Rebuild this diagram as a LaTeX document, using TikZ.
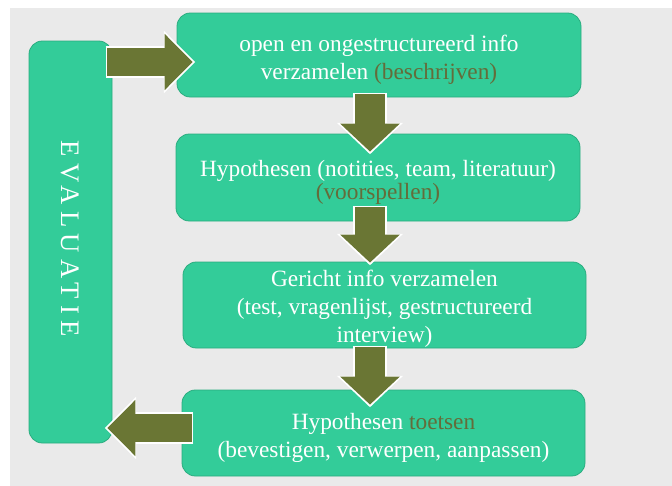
\documentclass[tikz,border=0pt]{standalone}
\usepackage{fontspec}
\setmainfont{Liberation Serif}
\newfontfamily\spacedfont[LetterSpace=24]{Liberation Serif}
\usepackage{xcolor}
\usetikzlibrary{arrows.meta}

\definecolor{boxgreen}{RGB}{51,204,153}
\definecolor{boxline}{RGB}{42,172,127}
\definecolor{arrowolive}{RGB}{106,118,52}
\definecolor{notebrown}{RGB}{100,108,58}
\definecolor{pagegray}{RGB}{234,234,234}

% pushes the first line down a little
\newcommand{\lowerline}[1]{\rule{0pt}{#1}}

\begin{document}
\begin{tikzpicture}[x=0.75pt, y=-0.75pt,
    stepbox/.style={fill=boxgreen, draw=boxline, line width=0.6pt, rounded corners=10pt,
        text=white, align=center, inner sep=0pt, font=\fontsize{17.5}{21}\selectfont},
    downarrow/.style={draw=arrowolive, line width=22.5pt, -{Triangle[width=43.5pt,length=21pt]},
        preaction={draw=white, line width=25pt, -{Triangle[width=48pt,length=23.5pt]},
        shorten >=-2pt, shorten <=-1.25pt}},
    sidearrow/.style={draw=arrowolive, line width=21.5pt, -{Triangle[width=41pt,length=21pt]},
        preaction={draw=white, line width=24pt, -{Triangle[width=45.5pt,length=23.5pt]},
        shorten >=-2pt, shorten <=-1.25pt}}]
        \useasboundingbox (0,0) rectangle (672,486);
        \fill[pagegray] (10,8) rectangle (672,486);

        \node (eval) [stepbox, minimum width=62.25pt, minimum height=301.5pt,
            label={[yshift=2.5pt, rotate=-90, text=white, font=\spacedfont\fontsize{20}{20}\selectfont]center:EVALUATIE}] at (70.5,242) {};
        \node (b1) [stepbox, minimum width=303pt, minimum height=63pt] at (379,55)
            {\lowerline{19.5pt}open en ongestructureerd info\\verzamelen \textcolor{notebrown}{(beschrijven)}};
        \node (b2) [stepbox, minimum width=303pt, minimum height=65.25pt] at (378,177.5)
            {\lowerline{19.5pt}Hypothesen (notities, team, literatuur)\\[-3.75pt]\textcolor{notebrown}{(voorspellen)}};
        \node (b3) [stepbox, minimum width=302.25pt, minimum height=64.5pt] at (384.5,305)
            {\lowerline{18pt}Gericht info verzamelen\\(test, vragenlijst, gestructureerd\\interview)};
        \node (b4) [stepbox, minimum width=302.25pt, minimum height=64.5pt] at (383.5,433)
            {\lowerline{19pt}Hypothesen \textcolor{notebrown}{toetsen}\\(bevestigen, verwerpen, aanpassen)};

        \draw[sidearrow] ([xshift=-3.75pt,yshift=-5.25pt]eval.east |- b1.west) -- ([xshift=12pt,yshift=-5.25pt]b1.west);
        \draw[downarrow] ([xshift=-6.75pt,yshift=2.25pt]b1.south) -- ([xshift=-6pt,yshift=-13.5pt]b2.north);
        \draw[downarrow] ([xshift=-6pt,yshift=10.5pt]b2.south) -- ([xshift=-10.875pt,yshift=-0.75pt]b3.north);
        \draw[downarrow] ([xshift=-10.875pt,yshift=0.75pt]b3.south) -- ([xshift=-10.125pt,yshift=-11.25pt]b4.north);
        \draw[sidearrow] ([xshift=7.5pt,yshift=3.75pt]b4.west) -- ([xshift=-3.75pt,yshift=3.75pt]eval.east |- b4.west);
    \end{tikzpicture}
\end{document}
